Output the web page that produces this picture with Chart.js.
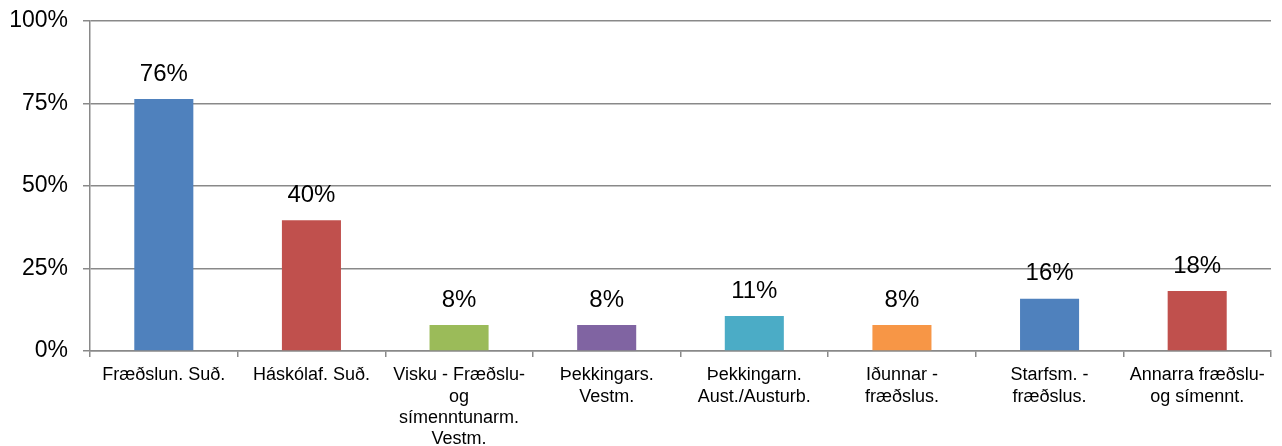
<!DOCTYPE html>
<html>
<head>
<meta charset="utf-8">
<title>Chart</title>
<script src="https://cdn.jsdelivr.net/npm/chart.js@4/dist/chart.umd.min.js"></script>
<style>
  body { margin: 0; background: #ffffff; }
  #myBarChart { display: block; }
</style>
</head>
<body>
<canvas id="myBarChart" width="1282" height="446"></canvas>
<script>
// chart data
const categories = [
    'Fræðslun. Suð.',
    'Háskólaf. Suð.',
    ['Visku - Fræðslu-', 'og', 'símenntunarm.', 'Vestm.'],
    ['Þekkingars.', 'Vestm.'],
    ['Þekkingarn.', 'Aust./Austurb.'],
    ['Iðunnar -', 'fræðslus.'],
    ['Starfsm. -', 'fræðslus.'],
    ['Annarra fræðslu-', 'og símennt.'],
];
const shares = [76.4, 39.6, 7.9, 7.9, 10.6, 7.9, 15.8, 18.2];
const barColors = ['#4F81BD', '#C0504D', '#9BBB59', '#8064A2', '#4BACC6', '#F79646', '#4F81BD', '#C0504D'];
const yTicks = [0, 25, 50, 75, 100];

window.onload = function () {
    const axisGray = '#898989';
    const fontFamily = '"Liberation Sans", Arial, sans-serif';

    // draws the value above each bar
    const valueLabels = {
        id: 'valueLabels',
        afterDatasetsDraw(chart) {
            const ctx = chart.ctx;
            const meta = chart.getDatasetMeta(0);
            ctx.save();
            ctx.font = '24px ' + fontFamily;
            ctx.fillStyle = '#000000';
            ctx.textAlign = 'center';
            ctx.textBaseline = 'middle';
            meta.data.forEach((bar, i) => {
                ctx.fillText(Math.round(shares[i]) + '%', bar.x, bar.y - 25);
            });
            ctx.restore();
        },
    };

    const ctx = document.getElementById('myBarChart');
    new Chart(ctx, {
        type: 'bar',
        data: {
            labels: categories,
            datasets: [
                {
                    data: shares,
                    backgroundColor: barColors,
                    barPercentage: 0.4,
                    categoryPercentage: 1,
                },
            ],
        },
        options: {
            responsive: false,
            animation: false,
            devicePixelRatio: 1,
            layout: {
                padding: { top: 21, right: 11, bottom: 0, left: 0 },
            },
            plugins: {
                legend: { display: false },
                tooltip: { enabled: false },
            },
            scales: {
                x: {
                    offset: true,
                    grid: {
                        offset: true,
                        drawOnChartArea: false,
                        drawTicks: true,
                        tickLength: 6,
                        color: axisGray,
                        lineWidth: 1.5,
                    },
                    border: { color: axisGray, width: 1.5 },
                    ticks: {
                        autoSkip: false,
                        maxRotation: 0,
                        minRotation: 0,
                        padding: 8,
                        color: '#000000',
                        font: { family: fontFamily, size: 18, lineHeight: 1.17 },
                    },
                    afterFit: (scale) => {
                        scale.height = 95;
                        scale.paddingLeft = 0;
                        scale.paddingRight = 0;
                    },
                },
                y: {
                    min: 0,
                    max: 100,
                    afterBuildTicks: (scale) => {
                        scale.ticks = yTicks.map((v) => ({ value: v }));
                    },
                    grid: {
                        color: axisGray,
                        lineWidth: 1.5,
                        drawTicks: true,
                        tickLength: 7,
                    },
                    border: { color: axisGray, width: 1.5 },
                    ticks: {
                        padding: 15,
                        color: '#000000',
                        font: { family: fontFamily, size: 23 },
                        callback: (v) => v + '%',
                    },
                    afterFit: (scale) => {
                        scale.width = 90;
                        scale.paddingTop = 0; // let layout padding decide the top edge
                        scale.paddingBottom = 0;
                    },
                },
            },
        },
        plugins: [valueLabels],
    });
};
</script>
</body>
</html>
